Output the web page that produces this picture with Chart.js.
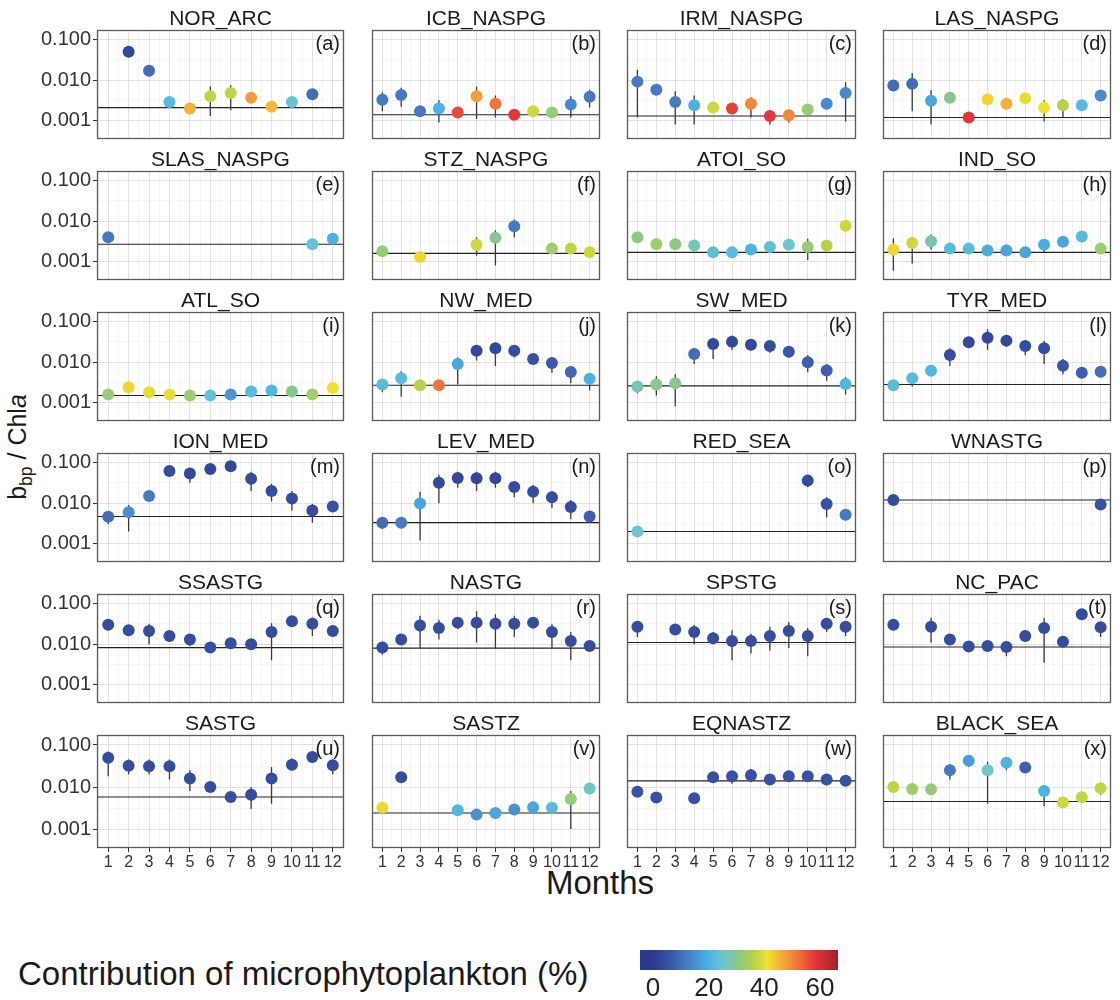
<!DOCTYPE html>
<html>
<head>
<meta charset="utf-8">
<script src="https://cdn.jsdelivr.net/npm/chart.js@4.4.1/dist/chart.umd.min.js"></script>
<style>
  body { margin: 0; background: #fff; font-family: "Liberation Sans", Arial, sans-serif; }
  #wrap { position: relative; width: 1120px; height: 1000px; overflow: hidden; }
  #wrap canvas { position: absolute; }
  .lbl { position: absolute; color: #1a1a1a; white-space: nowrap; }
  .lbl sub { font-size: 70%; }
</style>
</head>
<body>
<div id="wrap">
  <div class="lbl" style="left:-70px;top:430px;width:180px;text-align:center;font-size:25px;transform:rotate(-90deg);">b<sub>bp</sub> / Chl<i>a</i></div>
  <div class="lbl" style="left:450px;top:864px;width:300px;text-align:center;font-size:33px;">Months</div>
  <div class="lbl" style="left:18px;top:955px;font-size:33px;">Contribution of microphytoplankton (%)</div>
</div>
<script>
const _ = null;
const FONT = '"Liberation Sans", Arial, sans-serif';

const regions = ['NOR_ARC', 'ICB_NASPG', 'IRM_NASPG', 'LAS_NASPG',
  'SLAS_NASPG', 'STZ_NASPG', 'ATOI_SO', 'IND_SO',
  'ATL_SO', 'NW_MED', 'SW_MED', 'TYR_MED',
  'ION_MED', 'LEV_MED', 'RED_SEA', 'WNASTG',
  'SSASTG', 'NASTG', 'SPSTG', 'NC_PAC',
  'SASTG', 'SASTZ', 'EQNASTZ', 'BLACK_SEA'];

const months = [1, 2, 3, 4, 5, 6, 7, 8, 9, 10, 11, 12];

// reference level per region (horizontal line)
const refLine = [0.0021, 0.0014, 0.0013, 0.0012, 0.0027, 0.0016, 0.0017, 0.0017,
  0.0015, 0.0027, 0.0026, 0.0028, 0.0047, 0.0033, 0.0020, 0.012,
  0.0082, 0.0080, 0.011, 0.0085, 0.0058, 0.0024, 0.014, 0.0045];

// monthly bbp/Chla
const median = [
  [_, .050, .017, .0029, .0020, .0040, .0048, .0037, .0022, .0029, .0045, _],
  [.0033, .0043, .0017, .0020, .0016, .0040, .0026, .0014, .0017, .0016, .0025, .0039],
  [.0092, .0058, .0029, .0024, .0021, .0020, .0026, .0013, .00137, .0019, .0026, .0048],
  [.0074, .0081, .0031, .0037, .0012, .0034, .0026, .0036, .0021, .0024, .0024, .0042],
  [.0040, _, _, _, _, _, _, _, _, _, .0027, .0037],
  [.0018, _, .0013, _, _, .0026, .0039, .0075, _, .0021, .0021, .0017],
  [.0040, .0027, .0027, .0025, .0017, .0017, .0020, .0023, .0026, .0023, .0025, .0077],
  [.0020, .0029, .0032, .0021, .0021, .0019, .0019, .0017, .0026, .0031, .0042, .0021],
  [.0016, .0024, .0018, .0016, .0015, .0015, .0016, .0019, .0020, .0019, .0016, .0023],
  [.0028, .0040, .0027, .0027, .0090, .019, .022, .019, .012, .0095, .0057, .0039],
  [.0025, .0028, .0030, .016, .028, .032, .027, .025, .018, .010, .0062, .0029],
  [.0027, .0040, .0061, .015, .031, .040, .034, .025, .022, .0082, .0055, .0058],
  [.0046, .0060, .015, .062, .054, .070, .082, .040, .020, .013, .0066, .0083],
  [.0033, .0033, .0098, .032, .042, .041, .041, .025, .019, .014, .0080, .0047],
  [.0020, _, _, _, _, _, _, _, _, .036, .0095, .0052],
  [.012, _, _, _, _, _, _, _, _, _, _, .0093],
  [.030, .022, .021, .016, .013, .0083, .0105, .010, .020, .037, .032, .021],
  [.0083, .013, .029, .025, .034, .034, .032, .032, .034, .020, .012, .0090],
  [.027, _, .023, .020, .014, .012, .012, .016, .021, .016, .032, .027],
  [.030, _, .027, .013, .0087, .0090, .0085, .016, .025, .0115, .055, .026],
  [.050, .032, .031, .031, .016, .010, .0058, .0065, .016, .034, .052, .033],
  [.0032, .017, _, _, .0028, .0022, .0024, .0029, .0033, .0032, .0052, .0092],
  [.0077, .0056, _, .0054, .017, .018, .019, .015, .018, .018, .015, .014],
  [.010, .0090, .0088, .025, .042, .025, .038, .029, .0080, .0043, .0057, .0094]
];

// error bar ends
const lower = [
  [_, .042, _, _, _, .0013, .0018, _, _, _, _, _],
  [.0017, .0022, _, .0009, _, .0011, .0012, _, _, _, .0012, .0021],
  [.0012, _, .0008, .0008, _, _, .0012, .0008, .0009, _, _, .00095],
  [_, .0017, .0008, _, _, _, _, _, .00095, .0012, _, _],
  [_, _, _, _, _, _, _, _, _, _, _, .0031],
  [_, _, _, _, _, .0014, .0008, .0040, _, _, _, _],
  [_, .0020, .0020, _, _, _, _, .0018, .0020, .0011, _, _],
  [.0006, .0009, .0020, _, _, _, .0014, _, .0017, _, _, _],
  [.0013, .0017, _, _, _, _, _, _, _, _, _, _],
  [.0018, .0014, _, _, .0028, .011, .008, .013, .009, .0055, .0030, .0020],
  [.0017, .0015, .0008, .009, .012, .020, .020, .017, .013, .0056, .0035, .0016],
  [_, .0025, _, .008, .024, .020, .024, .015, .009, .005, .004, _],
  [.0030, .0020, _, _, .032, _, .070, .020, .011, .0065, .0033, _],
  [.0023, _, .0012, .010, .024, .020, .024, .014, .010, .0075, .0040, .0035],
  [_, _, _, _, _, _, _, _, _, .025, .0045, _],
  [_, _, _, _, _, _, _, _, _, _, _, _],
  [.022, _, .010, _, .009, _, _, _, .004, _, .016, _],
  [.0055, _, .008, .013, .024, .011, .008, .015, _, .008, .004, _],
  [.015, _, _, .010, .010, .004, .006, .007, .008, .005, .020, .016],
  [_, _, .011, _, _, _, .005, _, .0035, _, _, .015],
  [.018, .020, .020, .015, .008, .008, _, .003, .004, .025, _, .020],
  [_, _, _, _, _, _, _, _, _, _, .0010, _],
  [_, _, _, _, _, .012, .013, _, .014, _, _, .011],
  [_, .007, _, .015, .030, .004, .025, _, .0035, .0035, _, .0065]
];
const upper = [
  [_, .060, _, _, _, .0070, .0075, _, _, _, _, _],
  [.0050, .0065, _, .0032, _, .0070, .0042, _, _, _, .0040, .0058],
  [.018, _, .0053, .0042, _, _, .0038, .0018, .0018, _, _, .009],
  [_, .015, .0056, _, _, _, _, _, .0032, .0034, _, _],
  [_, _, _, _, _, _, _, _, _, _, _, .0044],
  [_, _, _, _, _, .0040, .0060, .011, _, _, _, _],
  [_, .0037, .0037, _, _, _, _, .0030, .0035, .0037, _, _],
  [.0038, .0040, .0047, _, _, _, .0026, _, .0035, _, _, _],
  [.0018, .0033, _, _, _, _, _, _, _, _, _, _],
  [.0037, .0060, _, _, .013, .026, .030, .025, .016, .013, .0080, .0052],
  [.0030, .0045, .0050, .022, .040, .045, .036, .032, .023, .015, .0090, .0043],
  [_, .0053, _, .022, .040, .065, .045, .033, .034, .012, .0068, _],
  [.0060, .0090, _, _, .072, _, .095, .060, .030, .020, .0095, _],
  [.0042, _, .019, .050, .060, .060, .060, .033, .028, .020, .012, .0060],
  [_, _, _, _, _, _, _, _, _, .045, .014, _],
  [_, _, _, _, _, _, _, _, _, _, _, _],
  [.035, _, .032, _, .016, _, _, _, .033, _, .045, _],
  [.011, _, .050, .040, .040, .065, .055, .050, _, .031, .020, _],
  [.035, _, _, .030, .020, .022, .018, .027, .035, .025, .045, .033],
  [_, _, .045, _, _, _, .011, _, .045, _, _, .030],
  [.070, .045, .045, .045, .025, .013, _, .010, .030, .048, _, .045],
  [_, _, _, _, _, _, _, _, _, _, .0080, _],
  [_, _, _, _, _, .023, .027, _, .022, _, _, .016],
  [_, .012, _, .035, .050, .040, .045, _, .011, .0055, _, .012]
];

// contribution of microphytoplankton (%)
const micro = [
  [_, 3, 10, 22, 46, 37, 37, 48, 45, 24, 10, _],
  [12, 12, 12, 20, 56, 48, 52, 58, 38, 32, 14, 12],
  [12, 12, 12, 20, 38, 57, 50, 58, 50, 32, 14, 14],
  [10, 10, 18, 30, 58, 42, 46, 40, 41, 36, 22, 14],
  [12, _, _, _, _, _, _, _, _, _, 24, 20],
  [32, _, 42, _, _, 38, 30, 12, _, 33, 37, 38],
  [31, 33, 31, 27, 23, 22, 20, 23, 25, 32, 36, 38],
  [42, 38, 27, 22, 22, 19, 18, 18, 19, 18, 22, 33],
  [32, 42, 40, 40, 33, 24, 16, 22, 21, 30, 33, 41],
  [22, 22, 36, 52, 18, 3, 3, 4, 5, 7, 9, 20],
  [27, 30, 30, 10, 3, 3, 3, 4, 6, 8, 8, 21],
  [22, 22, 21, 4, 3, 3, 3, 4, 4, 6, 8, 10],
  [10, 15, 12, 4, 3, 3, 3, 4, 4, 4, 4, 5],
  [10, 12, 18, 3, 3, 3, 3, 4, 4, 4, 4, 8],
  [25, _, _, _, _, _, _, _, _, 4, 5, 12],
  [4, _, _, _, _, _, _, _, _, _, _, 5],
  [4, 4, 4, 4, 4, 4, 4, 4, 4, 4, 4, 4],
  [4, 4, 4, 4, 4, 4, 4, 4, 4, 4, 4, 4],
  [4, _, 4, 4, 4, 4, 4, 4, 4, 4, 4, 4],
  [4, _, 4, 4, 4, 4, 4, 4, 4, 4, 4, 4],
  [4, 4, 4, 4, 4, 4, 4, 4, 4, 4, 4, 4],
  [42, 4, _, _, 21, 15, 18, 15, 18, 22, 32, 26],
  [5, 5, _, 5, 5, 5, 5, 5, 5, 5, 5, 5],
  [37, 33, 32, 12, 17, 26, 20, 8, 20, 38, 37, 37]
];

const yMajor = [0.001, 0.01, 0.1];
const yBreaks = [0.001, 0.00316, 0.01, 0.0316, 0.1];
const xBreaks = [0.5, 1, 1.5, 2, 2.5, 3, 3.5, 4, 4.5, 5, 5.5, 6, 6.5, 7, 7.5, 8, 8.5, 9, 9.5, 10, 10.5, 11, 11.5, 12, 12.5];
const legendTicks = [0, 20, 40, 60];

// jet-like palette used for the point fill
const colStops = [
  [0, [44, 58, 142]], [8, [61, 95, 176]], [15, [74, 143, 208]], [20, [75, 179, 228]],
  [25, [108, 198, 208]], [30, [134, 199, 142]], [36, [181, 210, 74]], [41, [242, 224, 46]],
  [47, [244, 166, 58]], [53, [239, 106, 54]], [58, [226, 55, 58]], [63, [192, 42, 48]],
  [68, [138, 34, 40]]
];

function microColour(p) {
  if (p <= colStops[0][0]) return 'rgb(' + colStops[0][1].join(',') + ')';
  for (let k = 1; k < colStops.length; k++) {
    const [p1, c1] = colStops[k];
    if (p <= p1) {
      const [p0, c0] = colStops[k - 1];
      const t = (p - p0) / (p1 - p0);
      return 'rgb(' + c0.map((v, j) => Math.round(v + (c1[j] - v) * t)).join(',') + ')';
    }
  }
  return 'rgb(' + colStops[colStops.length - 1][1].join(',') + ')';
}

// panel geometry
const COL_X = [97, 368, 623, 879];
const COL_W = [251, 236, 237, 236];
const ROW_Y0 = 30, ROW_STEP = 141, PANEL_H = 113;
const Y_MIN = 0.000353, Y_MAX = 0.173;

const panelDeco = {
  id: 'panelDeco',
  afterDraw(chart, args, opts) {
    const { ctx, chartArea: a } = chart;
    ctx.save();
    ctx.strokeStyle = '#5a5a5a';
    ctx.lineWidth = 1.3;
    ctx.strokeRect(a.left + 0.5, a.top + 0.5, a.right - a.left - 1, a.bottom - a.top - 1);
    ctx.fillStyle = '#1a1a1a';
    ctx.font = '21px ' + FONT;
    ctx.textAlign = 'center';
    ctx.textBaseline = 'alphabetic';
    ctx.fillText(opts.title, (a.left + a.right) / 2, a.top - 5);
    ctx.font = '20px ' + FONT;
    ctx.textAlign = 'right';
    ctx.textBaseline = 'top';
    ctx.fillText(opts.tag, a.right - 4, a.top + 4);
    ctx.restore();
  }
};

const wrap = document.getElementById('wrap');

regions.forEach((name, i) => {
  const r = Math.floor(i / 4), c = i % 4;
  const bottomRow = r === 5, firstCol = c === 0;
  const padL = firstCol ? COL_X[0] : 2, padT = 28, padR = 2, padB = bottomRow ? 26 : 2;
  const W = COL_W[c] + padL + padR, H = PANEL_H + padT + padB;

  const cv = document.createElement('canvas');
  cv.width = W; cv.height = H;
  cv.style.width = W + 'px'; cv.style.height = H + 'px';
  cv.style.left = (COL_X[c] - padL) + 'px';
  cv.style.top = (ROW_Y0 + r * ROW_STEP - padT) + 'px';
  wrap.appendChild(cv);

  const pts = [], fills = [], bars = [];
  months.forEach((m, k) => {
    const v = median[i][k];
    if (v !== null) { pts.push({ x: m, y: v }); fills.push(microColour(micro[i][k])); }
    if (lower[i][k] !== null) bars.push({ x: m, y: lower[i][k] }, { x: m, y: upper[i][k] }, { x: m, y: null });
  });

  new Chart(cv, {
    type: 'scatter',
    data: {
      datasets: [
        { data: pts, pointRadius: 6, pointHoverRadius: 6, pointBackgroundColor: fills, pointBorderWidth: 0, order: 0 },
        { data: bars, showLine: true, spanGaps: false, borderColor: '#3a3a3a', borderWidth: 1.3, pointRadius: 0, order: 1 },
        { data: [{ x: 0.45, y: refLine[i] }, { x: 12.55, y: refLine[i] }], showLine: true, borderColor: '#222', borderWidth: 1.1, pointRadius: 0, order: 2 }
      ]
    },
    options: {
      responsive: false,
      animation: false,
      layout: { padding: { top: padT, right: padR, bottom: bottomRow ? 0 : padB, left: firstCol ? 0 : padL } },
      plugins: { legend: { display: false }, tooltip: { enabled: false }, panelDeco: { title: name, tag: '(' + String.fromCharCode(97 + i) + ')' } },
      scales: {
        x: {
          type: 'linear', min: 0.45, max: 12.55,
          afterBuildTicks: s => { s.ticks = xBreaks.map(v => ({ value: v })); },
          afterFit: s => { s.height = bottomRow ? 26 : 0; s.paddingLeft = 0; s.paddingRight = 0; },
          ticks: { display: bottomRow, autoSkip: false, maxRotation: 0, padding: 1, color: '#333', font: { size: 16, family: FONT },
            callback: v => Number.isInteger(v) ? String(v) : '' },
          grid: { color: ctx => Number.isInteger(ctx.tick.value) ? '#e2e2e2' : '#f0f0f0',
            lineWidth: ctx => Number.isInteger(ctx.tick.value) ? 1 : 0.7,
            drawTicks: bottomRow, tickLength: 4,
            tickColor: ctx => Number.isInteger(ctx.tick.value) ? '#333' : 'rgba(0,0,0,0)' },
          border: { display: false }
        },
        y: {
          type: 'logarithmic', min: Y_MIN, max: Y_MAX,
          afterBuildTicks: s => { s.ticks = yBreaks.map(v => ({ value: v })); },
          afterFit: s => { s.width = firstCol ? COL_X[0] : 0; s.paddingTop = 0; s.paddingBottom = 0; },
          ticks: { display: firstCol, padding: 2, color: '#333', font: { size: 20, family: FONT },
            callback: v => yMajor.includes(v) ? v.toFixed(3) : '' },
          grid: { color: ctx => yMajor.includes(ctx.tick.value) ? '#e2e2e2' : '#f0f0f0',
            lineWidth: ctx => yMajor.includes(ctx.tick.value) ? 1 : 0.7,
            drawTicks: firstCol, tickLength: 4,
            tickColor: ctx => yMajor.includes(ctx.tick.value) ? '#333' : 'rgba(0,0,0,0)' },
          border: { display: false }
        }
      }
    },
    plugins: [panelDeco]
  });
});

// colour bar legend
const colourBar = {
  id: 'colourBar',
  beforeDatasetsDraw(chart) {
    const { ctx, chartArea: a, scales: { x } } = chart;
    const g = ctx.createLinearGradient(a.left, 0, a.right, 0);
    g.addColorStop(0, microColour(x.min));
    colStops.forEach(([p]) => {
      const t = (x.getPixelForValue(p) - a.left) / (a.right - a.left);
      if (t > 0 && t < 1) g.addColorStop(t, microColour(p));
    });
    g.addColorStop(1, microColour(x.max));
    ctx.save();
    ctx.fillStyle = g;
    ctx.fillRect(a.left, a.top, a.right - a.left, a.bottom - a.top);
    ctx.restore();
  }
};

const lg = document.createElement('canvas');
lg.width = 240; lg.height = 60;
lg.style.width = '240px'; lg.style.height = '60px';
lg.style.left = '620px'; lg.style.top = '940px';
wrap.appendChild(lg);

new Chart(lg, {
  type: 'scatter',
  data: { datasets: [] },
  options: {
    responsive: false,
    animation: false,
    layout: { padding: { left: 20, right: 22, top: 10, bottom: 0 } },
    plugins: { legend: { display: false }, tooltip: { enabled: false } },
    scales: {
      x: {
        type: 'linear', min: -4.7, max: 66.5,
        afterBuildTicks: s => { s.ticks = legendTicks.map(v => ({ value: v })); },
        afterFit: s => { s.height = 30; s.paddingLeft = 0; s.paddingRight = 0; },
        ticks: { padding: 3, color: '#222', font: { size: 26, family: FONT } },
        grid: { display: false, drawTicks: false },
        border: { display: false }
      },
      y: { display: false, min: 0, max: 1 }
    }
  },
  plugins: [colourBar]
});
</script>
</body>
</html>
